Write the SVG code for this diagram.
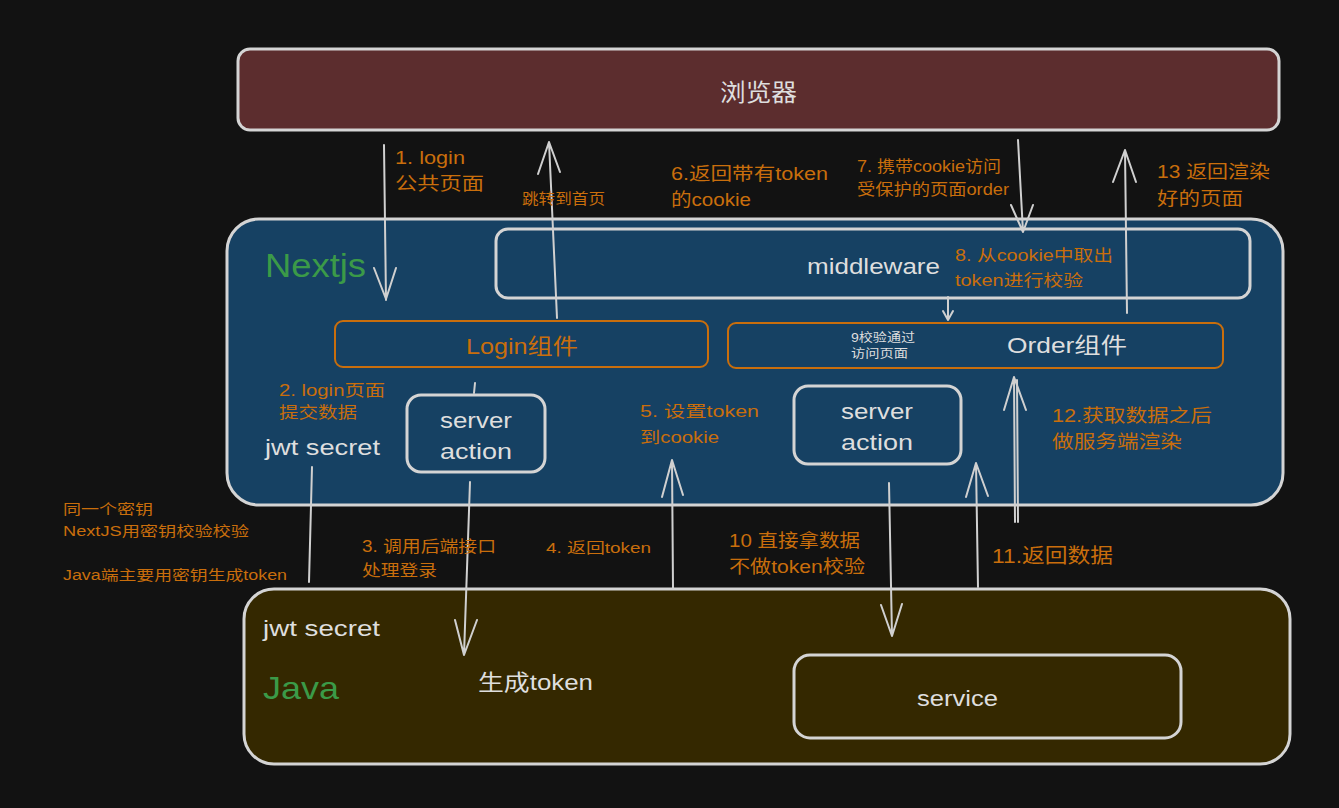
<svg xmlns="http://www.w3.org/2000/svg" width="1339" height="808" viewBox="0 0 1339 808">
<defs>
<style>
.t{font-family:"Liberation Sans","Noto Sans CJK SC",sans-serif}
.w{fill:#dedede}
.o{fill:#c96e0c}
.g{fill:#3b9a48}
.box{stroke:#d4d4d4;stroke-width:3}
.ob{fill:none;stroke:#c96e0c;stroke-width:2}
.ln{stroke:#d0d0d0;stroke-width:2;fill:none;stroke-linecap:round;stroke-linejoin:round}
</style>
</defs>
<rect width="1339" height="808" fill="#121212"/>

<g id="browser">
<rect x="238" y="49" width="1041" height="81" rx="12" fill="#5c2d2e" class="box"/>
<text x="720" y="101" font-size="24" class="t w" textLength="77" lengthAdjust="spacingAndGlyphs">浏览器</text>
</g>

<g id="nextjs">
<rect x="227" y="219" width="1056" height="286" rx="32" fill="#164163" class="box"/>
<text x="265" y="277" font-size="34" class="t g" textLength="101" lengthAdjust="spacingAndGlyphs">Nextjs</text>
<text x="265" y="455" font-size="22" class="t w" textLength="115" lengthAdjust="spacingAndGlyphs">jwt secret</text>
</g>

<g id="middleware">
<rect x="496" y="229" width="754" height="69" rx="12" fill="#164163" class="box"/>
<text x="807" y="274" font-size="22" class="t w" textLength="133" lengthAdjust="spacingAndGlyphs">middleware</text>
</g>

<g id="login">
<rect x="335" y="321" width="373" height="46" rx="8" class="ob"/>
<text x="466" y="354" font-size="22" class="t o" textLength="112" lengthAdjust="spacingAndGlyphs">Login组件</text>
</g>

<g id="order">
<rect x="728" y="323" width="495" height="45" rx="8" class="ob"/>
<text x="1007" y="353" font-size="22" class="t w" textLength="120" lengthAdjust="spacingAndGlyphs">Order组件</text>
<text x="851" y="342" font-size="12" class="t w" textLength="64" lengthAdjust="spacingAndGlyphs">9校验通过</text>
<text x="851" y="358" font-size="12" class="t w" textLength="57" lengthAdjust="spacingAndGlyphs">访问页面</text>
</g>

<g id="sa1">
<rect x="407" y="395" width="138" height="77" rx="14" fill="none" class="box"/>
<text x="440" y="428" font-size="22" class="t w" textLength="72" lengthAdjust="spacingAndGlyphs">server</text>
<text x="440" y="459" font-size="22" class="t w" textLength="72" lengthAdjust="spacingAndGlyphs">action</text>
</g>

<g id="sa2">
<rect x="794" y="386" width="167" height="78" rx="14" fill="none" class="box"/>
<text x="841" y="419" font-size="22" class="t w" textLength="72" lengthAdjust="spacingAndGlyphs">server</text>
<text x="841" y="450" font-size="22" class="t w" textLength="72" lengthAdjust="spacingAndGlyphs">action</text>
</g>

<g id="java">
<rect x="244" y="589" width="1046" height="175" rx="30" fill="#342800" class="box"/>
<text x="263" y="636" font-size="22" class="t w" textLength="117" lengthAdjust="spacingAndGlyphs">jwt secret</text>
<text x="263" y="699" font-size="32" class="t g" textLength="76" lengthAdjust="spacingAndGlyphs">Java</text>
<text x="478" y="690" font-size="22" class="t w" textLength="115" lengthAdjust="spacingAndGlyphs">生成token</text>
</g>

<g id="service">
<rect x="794" y="655" width="387" height="83" rx="16" fill="none" class="box" stroke-width="2"/>
<text x="917" y="706" font-size="22" class="t w" textLength="81" lengthAdjust="spacingAndGlyphs">service</text>
</g>

<g id="connectors">
<path class="ln" d="M384 145 L386 300 M374 268 L386 299 L396 268"/>
<path class="ln" d="M557 318 L549 142 M538 174 L549 142 L560 172"/>
<path class="ln" d="M1018 140 L1023 232 M1011 205 L1023 232 L1033 205"/>
<path class="ln" d="M1127 313 L1125 150 M1113 182 L1125 150 L1136 182"/>
<path class="ln" d="M948 297 L948 320 M943 311 L948 320 L953 311" stroke-width="1.5"/>
<path class="ln" d="M475 383 L474 393" stroke-width="3"/>
<path class="ln" d="M470 482 L464 655 M455 620 L464 655 L477 620" stroke-width="3"/>
<path class="ln" d="M312 467 L309 582" stroke-width="3"/>
<path class="ln" d="M673 588 L672 460 M662 497 L672 460 L683 495"/>
<path class="ln" d="M889 483 L892 636 M881 605 L892 636 L902 604"/>
<path class="ln" d="M978 587 L976 463 M966 497 L976 463 L988 496"/>
<path class="ln" d="M1015 522 L1014 377 M1004 410 L1014 377 L1026 410 M1018 522 L1017 380"/>
</g>

<g id="labels">
<text x="395" y="164" font-size="18" class="t o" textLength="70" lengthAdjust="spacingAndGlyphs">1. login</text>
<text x="395" y="190" font-size="18" class="t o" textLength="89" lengthAdjust="spacingAndGlyphs">公共页面</text>
<text x="522" y="204" font-size="15" class="t o" textLength="83" lengthAdjust="spacingAndGlyphs">跳转到首页</text>
<text x="671" y="180" font-size="18" class="t o" textLength="157" lengthAdjust="spacingAndGlyphs">6.返回带有token</text>
<text x="671" y="206" font-size="18" class="t o" textLength="80" lengthAdjust="spacingAndGlyphs">的cookie</text>
<text x="857" y="172" font-size="16" class="t o" textLength="144" lengthAdjust="spacingAndGlyphs">7. 携带cookie访问</text>
<text x="857" y="195" font-size="16" class="t o" textLength="152" lengthAdjust="spacingAndGlyphs">受保护的页面order</text>
<text x="1157" y="178" font-size="18" class="t o" textLength="113" lengthAdjust="spacingAndGlyphs">13 返回渲染</text>
<text x="1157" y="205" font-size="18" class="t o" textLength="86" lengthAdjust="spacingAndGlyphs">好的页面</text>
<text x="955" y="261" font-size="16" class="t o" textLength="158" lengthAdjust="spacingAndGlyphs">8. 从cookie中取出</text>
<text x="955" y="286" font-size="16" class="t o" textLength="128" lengthAdjust="spacingAndGlyphs">token进行校验</text>
<text x="279" y="396" font-size="16" class="t o" textLength="106" lengthAdjust="spacingAndGlyphs">2. login页面</text>
<text x="279" y="418" font-size="16" class="t o" textLength="78" lengthAdjust="spacingAndGlyphs">提交数据</text>
<text x="640" y="417" font-size="16" class="t o" textLength="119" lengthAdjust="spacingAndGlyphs">5. 设置token</text>
<text x="640" y="443" font-size="16" class="t o" textLength="79" lengthAdjust="spacingAndGlyphs">到cookie</text>
<text x="1052" y="422" font-size="18" class="t o" textLength="160" lengthAdjust="spacingAndGlyphs">12.获取数据之后</text>
<text x="1052" y="448" font-size="18" class="t o" textLength="130" lengthAdjust="spacingAndGlyphs">做服务端渲染</text>
<text x="63" y="514" font-size="14" class="t o" textLength="90" lengthAdjust="spacingAndGlyphs">同一个密钥</text>
<text x="63" y="536" font-size="14" class="t o" textLength="186" lengthAdjust="spacingAndGlyphs">NextJS用密钥校验校验</text>
<text x="63" y="580" font-size="14" class="t o" textLength="224" lengthAdjust="spacingAndGlyphs">Java端主要用密钥生成token</text>
<text x="362" y="552" font-size="16" class="t o" textLength="134" lengthAdjust="spacingAndGlyphs">3. 调用后端接口</text>
<text x="362" y="576" font-size="16" class="t o" textLength="75" lengthAdjust="spacingAndGlyphs">处理登录</text>
<text x="546" y="553" font-size="15" class="t o" textLength="105" lengthAdjust="spacingAndGlyphs">4. 返回token</text>
<text x="729" y="547" font-size="18" class="t o" textLength="131" lengthAdjust="spacingAndGlyphs">10 直接拿数据</text>
<text x="729" y="573" font-size="18" class="t o" textLength="136" lengthAdjust="spacingAndGlyphs">不做token校验</text>
<text x="992" y="563" font-size="20" class="t o" textLength="121" lengthAdjust="spacingAndGlyphs">11.返回数据</text>
</g>
</svg>
